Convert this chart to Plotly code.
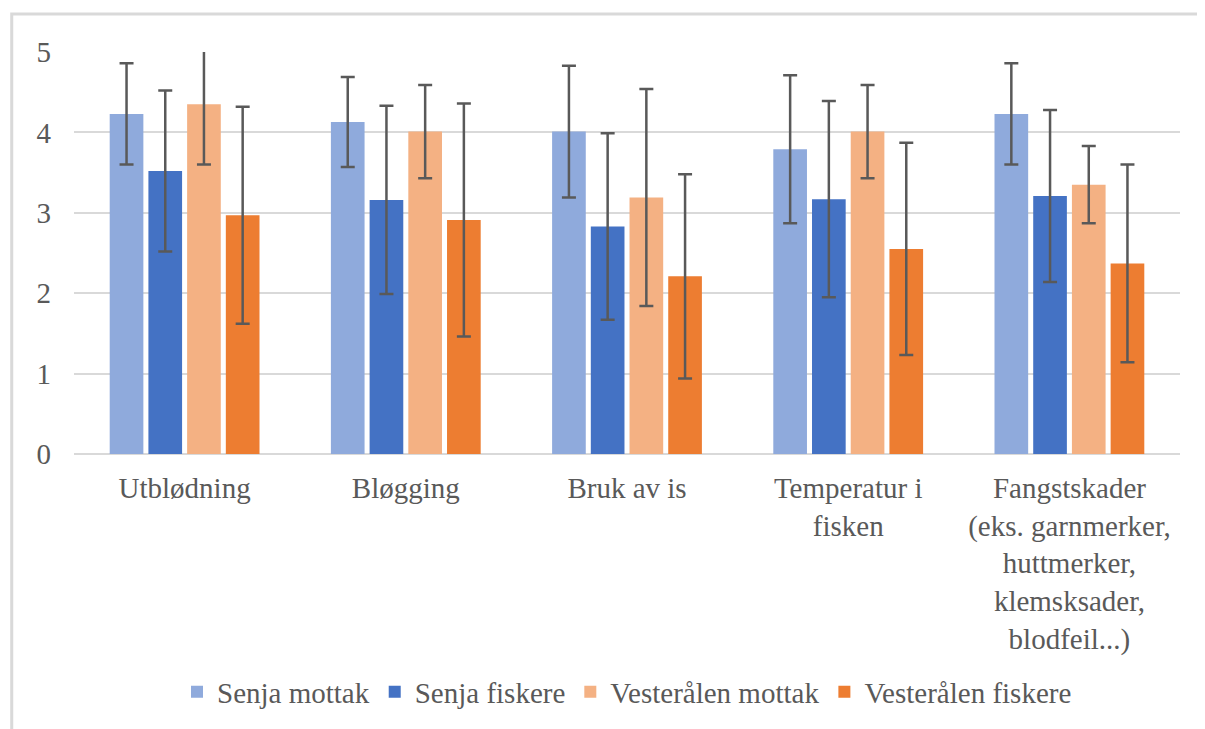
import plotly.graph_objects as go

# Categories and series
categories = [
    "Utblødning",
    "Bløgging",
    "Bruk av is",
    "Temperatur i<br>fisken",
    "Fangstskader<br>(eks. garnmerker,<br>huttmerker,<br>klemsksader,<br>blodfeil...)",
]

senja_mottak = [4.23, 4.13, 4.01, 3.79, 4.23]
senja_mottak_err = [0.63, 0.56, 0.82, 0.92, 0.63]

senja_fiskere = [3.52, 3.16, 2.83, 3.17, 3.21]
senja_fiskere_err = [1.00, 1.17, 1.16, 1.22, 1.07]

vesteralen_mottak = [4.35, 4.01, 3.19, 4.01, 3.35]
vesteralen_mottak_err = [0.75, 0.58, 1.35, 0.58, 0.48]

vesteralen_fiskere = [2.97, 2.91, 2.21, 2.55, 2.37]
vesteralen_fiskere_err = [1.35, 1.45, 1.27, 1.32, 1.23]

y_ticks = [0, 1, 2, 3, 4, 5]

series = [
    ("Senja mottak", senja_mottak, senja_mottak_err, "#8FAADC"),
    ("Senja fiskere", senja_fiskere, senja_fiskere_err, "#4472C4"),
    ("Vesterålen mottak", vesteralen_mottak, vesteralen_mottak_err, "#F4B183"),
    ("Vesterålen fiskere", vesteralen_fiskere, vesteralen_fiskere_err, "#ED7D31"),
]

FONT = "Liberation Serif, Times New Roman, serif"
TEXT = "#595959"
GRID = "#D9D9D9"

fig = go.Figure()

for name, vals, errs, color in series:
    fig.add_trace(go.Bar(
        x=categories,
        y=vals,
        name=name,
        marker=dict(color=color, line=dict(width=0)),
        error_y=dict(type="data", array=errs, visible=True,
                     color="#595959", thickness=2.5, width=7),
    ))

# page body has an 8px margin, so the figure is 8px smaller than the window
fig.update_layout(
    width=1197,
    height=721,
    margin=dict(l=66, r=25, t=44, b=275),
    paper_bgcolor="white",
    plot_bgcolor="white",
    barmode="group",
    bargap=0.30,
    bargroupgap=0.13,
    font=dict(family=FONT, size=29, color=TEXT),
    showlegend=True,
    legend=dict(
        orientation="h",
        x=0.5, xanchor="center",
        y=-0.592, yanchor="middle",
        font=dict(family=FONT, size=29, color=TEXT),
    ),
)

fig.update_xaxes(
    showgrid=False,
    showline=False,
    ticks="",
    ticklabelstandoff=14,
    tickfont=dict(family=FONT, size=29, color=TEXT),
    automargin=False,
)

fig.update_yaxes(
    range=[0, 5],
    tickvals=y_ticks,
    showgrid=True,
    gridcolor=GRID,
    gridwidth=2,
    zeroline=True,
    zerolinecolor=GRID,
    zerolinewidth=2,
    showline=False,
    ticks="",
    ticklabelstandoff=22,
    tickfont=dict(family=FONT, size=29, color=TEXT),
    automargin=False,
)

# outer chart border
fig.add_shape(
    type="rect", xref="paper", yref="paper",
    x0=-0.0563, x1=1.05, y0=-0.75, y1=1.0945,
    line=dict(color=GRID, width=3),
    fillcolor="rgba(0,0,0,0)",
    layer="below",
)

fig.write_html("out.html")
